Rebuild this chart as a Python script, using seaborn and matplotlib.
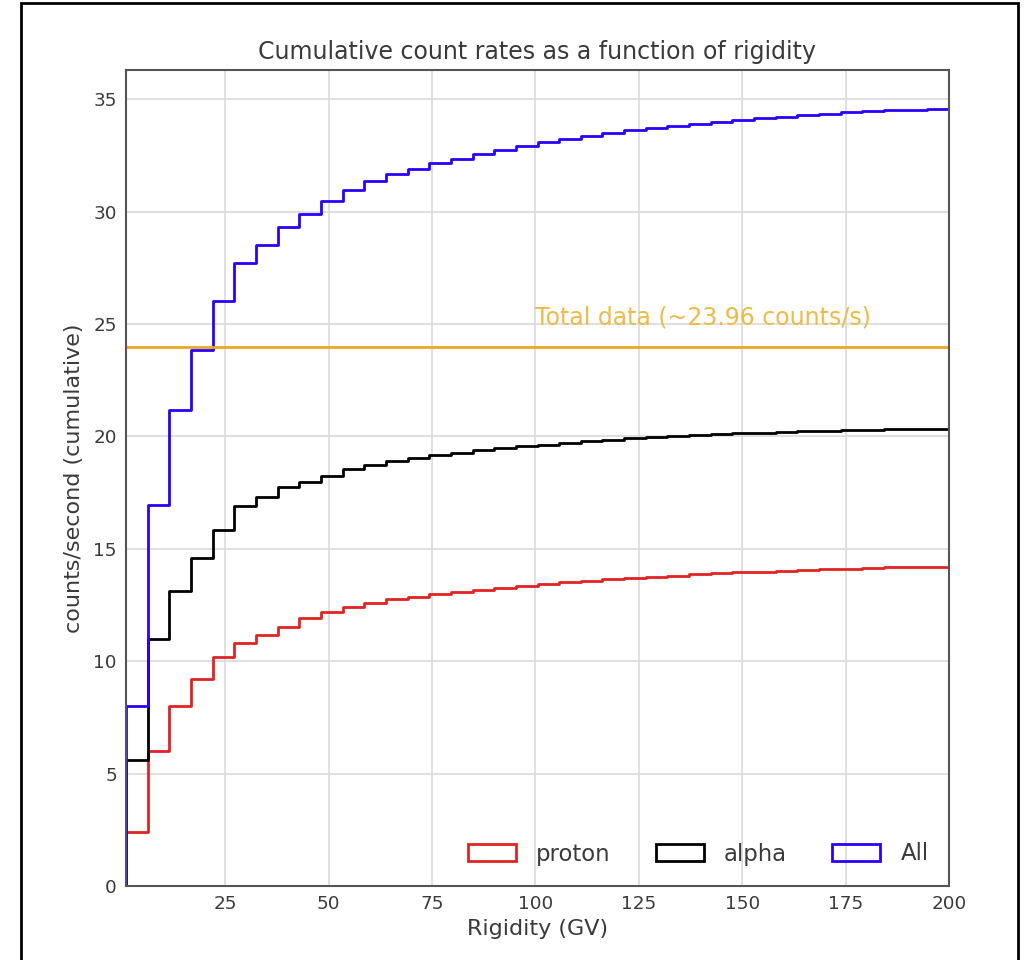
import numpy as np
import pandas as pd
import matplotlib
matplotlib.use("Agg")
import matplotlib.pyplot as plt
from matplotlib.patches import Rectangle
import seaborn as sns

# ---- data ----
bin_edges = np.linspace(1, 200, 39).tolist()   # 38 rigidity bins (GV)
proton = [2.41, 6.02, 8.02, 9.20, 10.17, 10.79, 11.16, 11.53, 11.90, 12.20,
          12.42, 12.61, 12.78, 12.86, 12.98, 13.08, 13.18, 13.27, 13.36, 13.44,
          13.52, 13.59, 13.65, 13.71, 13.76, 13.81, 13.86, 13.91, 13.95, 13.99,
          14.03, 14.06, 14.09, 14.12, 14.15, 14.17, 14.19, 14.20]
alpha = [5.60, 10.97, 13.13, 14.60, 15.83, 16.90, 17.31, 17.75, 17.98, 18.24,
         18.53, 18.72, 18.92, 19.05, 19.17, 19.28, 19.38, 19.47, 19.56, 19.64,
         19.72, 19.79, 19.85, 19.91, 19.96, 20.01, 20.05, 20.09, 20.13, 20.16,
         20.19, 20.22, 20.25, 20.27, 20.29, 20.31, 20.33, 20.35]
all_particles = [8.02, 16.96, 21.18, 23.83, 26.02, 27.71, 28.50, 29.32, 29.90, 30.47,
                 30.97, 31.35, 31.68, 31.91, 32.15, 32.36, 32.56, 32.74, 32.92, 33.08,
                 33.24, 33.38, 33.50, 33.62, 33.72, 33.82, 33.91, 34.00, 34.08, 34.15,
                 34.22, 34.28, 34.34, 34.41, 34.46, 34.50, 34.53, 34.55]
series_names = ["proton", "alpha", "All"]
series_colors = ["#e02424", "#000000", "#2a00ff"]
total_rate = 23.96
total_label = "Total data (~23.96 counts/s)"
x_ticks = [25, 50, 75, 100, 125, 150, 175, 200]
y_ticks = [0, 5, 10, 15, 20, 25, 30, 35]

edges_arr = np.array(bin_edges)
centers = (edges_arr[:-1] + edges_arr[1:]) / 2
df = pd.DataFrame({"rigidity": centers, "proton": proton, "alpha": alpha, "All": all_particles})

# ---- style ----
sns.set_theme(style="whitegrid")
plt.rcParams["font.family"] = ["DejaVu Sans"]
text_color = "#3a3a3a"
spine_color = "#555555"

fig = plt.figure(figsize=(10.25, 9.6), dpi=100)
ax = fig.add_axes([126 / 1025, 1 - 886 / 960, (949 - 126) / 1025, (886 - 70) / 960])

for name, col in zip(series_names, series_colors):
    sns.histplot(data=df, x="rigidity", weights=name, bins=bin_edges,
                 element="step", fill=True, facecolor="none", edgecolor=col,
                 color=col, linewidth=2.0, label=name, ax=ax)

ax.axhline(total_rate, color="#eaa824", linewidth=2.0, zorder=1)
ax.text(100, 25.0, total_label, color="#edbb4a", fontsize=17, va="baseline", ha="left")

ax.set_xlim(1, 200)
ax.set_ylim(0, 36.3)
ax.set_xticks(x_ticks)
ax.set_yticks(y_ticks)
ax.grid(True, color="#dadada", linewidth=1.2)
ax.set_axisbelow(True)

for s in ax.spines.values():
    s.set_visible(True)
    s.set_color(spine_color)
    s.set_linewidth(1.5)

ax.tick_params(direction="in", length=6, width=1.3, color=spine_color,
               labelcolor=text_color, labelsize=13.2, pad=6.5)

ax.set_title("Cumulative count rates as a function of rigidity", fontsize=17,
             color=text_color, pad=8)
ax.set_xlabel("Rigidity (GV)", fontsize=16, color=text_color, labelpad=4)
ax.set_ylabel("counts/second (cumulative)", fontsize=16, color=text_color, labelpad=7)

leg = ax.legend(loc="lower right", ncol=3, frameon=False, fontsize=16.4,
                handlelength=2.1, handleheight=0.75, handletextpad=0.88,
                columnspacing=2.0, borderaxespad=0.5)
for t in leg.get_texts():
    t.set_color(text_color)

# figure border
fig.patches.append(Rectangle((21 / 1025, -0.01), (1018 - 21) / 1025, 1 - 3 / 960 + 0.01,
                             transform=fig.transFigure, fill=False,
                             edgecolor="black", linewidth=2.0))

fig.savefig("out.png", dpi=100)
